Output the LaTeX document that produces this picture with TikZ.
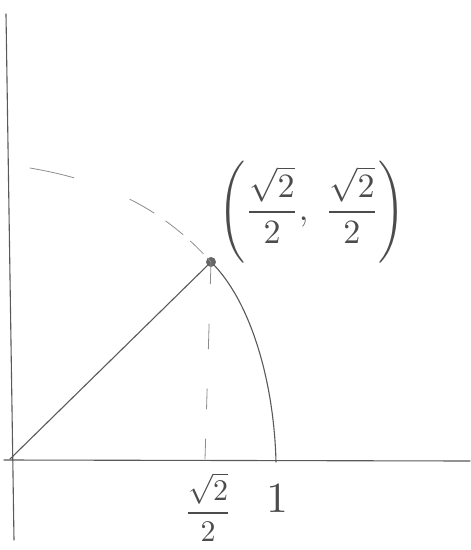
\documentclass[tikz,border=0pt]{standalone}
\usepackage{amsmath}
\begin{document}
\begin{tikzpicture}[x=1pt,y=-1pt,
  pencil/.style={draw=black!65,line width=1.1pt,line cap=round},
  faint/.style={draw=black!45,line width=0.8pt,line cap=round},
  lbl/.style={text=black!70,inner sep=0pt}]
\useasboundingbox (0,0) rectangle (471,550);
% axes
\coordinate (ytop) at (6,14);
\coordinate (ybot) at (14,540);
\coordinate (xl) at (4,460);
\coordinate (xr) at (470,461);
\coordinate (O) at (10,459);
\draw[pencil] (ytop) -- (ybot);
\draw[pencil] (xl) -- (xr);
% point and arc
\coordinate (P) at (211,262);
\coordinate (A) at (276,462);
\draw[pencil] (O) -- (P);
\draw[pencil] (P) .. controls (250,300) and (274,380) .. (A);
\fill[black!60] (P) circle (5);
% dashed continuation of circle
\coordinate (C0) at (30,168);
\draw[faint,dash pattern=on 45pt off 60pt on 28pt off 14pt on 22pt off 10pt on 18pt off 6pt] (C0) .. controls (100,180) and (160,205) .. (P);
% dashed projection
\coordinate (F) at (205,459);
\draw[faint,dash pattern=on 22pt off 40pt on 25pt off 40pt on 20pt off 30pt] (P) -- (F);
% labels
\node[lbl,scale=3.4] (pl) at (312,212) {$\left(\dfrac{\sqrt{2}}{2},\ \dfrac{\sqrt{2}}{2}\right)$};
\node[lbl,scale=3.0] (xlab) at (208,507) {$\dfrac{\sqrt{2}}{2}$};
\node[lbl,scale=4.3] (one) at (277,499) {$1$};
\end{tikzpicture}
\end{document}
